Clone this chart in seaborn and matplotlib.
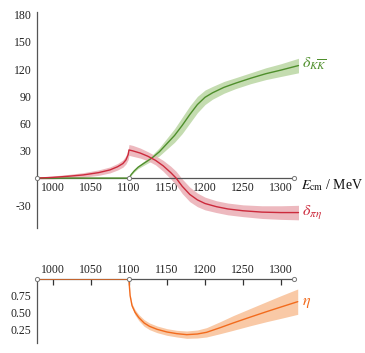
import numpy as np
import pandas as pd
import matplotlib
matplotlib.use("Agg")
import matplotlib.pyplot as plt
import seaborn as sns

sns.set_style("white")
plt.rcParams["font.family"] = ["Liberation Serif", "DejaVu Serif"]
plt.rcParams["mathtext.fontset"] = "stix"
plt.rcParams["axes.unicode_minus"] = False

# ---- data ----
pieta_E = [979, 1000, 1020, 1040, 1060, 1075, 1085, 1092, 1096, 1099, 1100, 1105, 1115, 1125,
           1135, 1145, 1155, 1162, 1170, 1180, 1190, 1200, 1215, 1230, 1250, 1275, 1300, 1323]
pieta_delta = [0, 0.8, 2, 3.5, 6, 9, 12.5, 16, 20, 26, 31, 30, 27.5, 24,
               19.5, 13.5, 6, 0, -9, -18, -24, -28, -31.5, -34, -36, -37.5, -38, -38]
pieta_err = [0.8, 1.5, 2, 2.5, 3, 3.3, 3.6, 4, 4.5, 5.5, 6, 6, 5.5, 5,
             5, 6, 7, 7.5, 8, 8, 7.5, 7, 6.5, 6.5, 6.5, 7, 7.5, 8]

kk_E = [979, 1100, 1103, 1107, 1112, 1120, 1130, 1140, 1150, 1160, 1170, 1180, 1190, 1200,
        1210, 1225, 1240, 1260, 1280, 1300, 1323]
kk_delta = [0, 0, 4, 8, 12, 16.5, 22, 29, 38, 47, 58, 70, 81, 89,
            94, 100, 104.5, 110, 115, 119, 124]
kk_err = [0, 0, 0.8, 1.2, 1.6, 2.2, 3, 4.5, 6, 7.5, 9, 9.5, 9, 8,
          7, 6.5, 6, 6, 6.5, 7, 8]

eta_E = [979, 1100, 1100.5, 1101.5, 1104, 1108, 1113, 1120, 1127, 1137, 1150, 1163, 1176,
         1190, 1202, 1220, 1237, 1260, 1281, 1300, 1322]
eta_val = [1, 1, 0.9, 0.75, 0.6, 0.5, 0.42, 0.34, 0.29, 0.245, 0.205, 0.18, 0.165,
           0.175, 0.2, 0.27, 0.34, 0.43, 0.51, 0.58, 0.66]
eta_err = [0, 0, 0.01, 0.02, 0.03, 0.04, 0.045, 0.05, 0.05, 0.05, 0.05, 0.05, 0.055,
           0.06, 0.07, 0.09, 0.11, 0.13, 0.15, 0.17, 0.19]

x_ticks = [1000, 1050, 1100, 1150, 1200, 1250, 1300]
y_ticks_top = [-30, 30, 60, 90, 120, 150, 180]
y_ticks_bot = [0.25, 0.50, 0.75]

green, green_band = "#4f8f2c", "#c4dcb0"
red, red_band = "#cc2a3c", "#ebb2b8"
orange, orange_band = "#f26b1d", "#f9c9a6"
axcol = "#555555"

W, H = 365, 353
fig = plt.figure(figsize=(W / 100, H / 100), dpi=100)
xlim = (979, 1325)
x_end = 1317

def frac(l, t, r, b):
    return [l / W, 1 - b / H, (r - l) / W, (b - t) / H]

ax1 = fig.add_axes(frac(37, 12, 300, 228))
ax2 = fig.add_axes(frac(37, 279, 300, 343))

df_p = pd.DataFrame({"E": pieta_E, "d": pieta_delta, "e": pieta_err})
df_k = pd.DataFrame({"E": kk_E, "d": kk_delta, "e": kk_err})
df_h = pd.DataFrame({"E": eta_E, "d": eta_val, "e": eta_err})

# top panel
ax1.fill_between(df_k.E, df_k.d - df_k.e, df_k.d + df_k.e, color=green_band, lw=0, zorder=1)
ax1.fill_between(df_p.E, df_p.d - df_p.e, df_p.d + df_p.e, color=red_band, lw=0, zorder=1, alpha=0.9)
sns.lineplot(data=df_k, x="E", y="d", ax=ax1, color=green, lw=1.0, estimator=None, sort=False, zorder=3)
sns.lineplot(data=df_p, x="E", y="d", ax=ax1, color=red, lw=1.0, estimator=None, sort=False, zorder=3)
ax1.set_xlim(*xlim)
ax1.set_ylim(-55, 183)
for s in ["top", "right"]:
    ax1.spines[s].set_visible(False)
ax1.spines["bottom"].set_position(("data", 0))
ax1.spines["bottom"].set_bounds(979, x_end)
for s in ["bottom", "left"]:
    ax1.spines[s].set_color(axcol)
    ax1.spines[s].set_linewidth(0.9)
ax1.set_xticks(x_ticks)
ax1.set_yticks(y_ticks_top)
ax1.tick_params(direction="in", length=4.5, width=0.9, colors="#333333", labelsize=8.5, labelcolor="#222222")
ax1.tick_params(axis="x", pad=3)
ax1.tick_params(axis="y", pad=4)
ax1.set_xlabel("")
ax1.set_ylabel("")
ax1.plot([979, 1100, x_end], [0, 0, 0], ls="none", marker="o", ms=3, mfc="white",
         mec="#777777", mew=0.7, clip_on=False, zorder=5)
ax1.text(1328, 126, r"$\delta_{K\overline{K}}$", color=green, fontsize=11.5, va="center", ha="left")
ax1.text(1328, -39, r"$\delta_{\pi\eta}$", color=red, fontsize=11.5, va="center", ha="left")
ax1.text(1326, -8, r"$E_{\mathrm{cm}}$ / MeV", color="#111111", fontsize=10, va="center", ha="left")

# bottom panel
ax2.fill_between(df_h.E, df_h.d - df_h.e, df_h.d + df_h.e, color=orange_band, lw=0, zorder=1)
sns.lineplot(data=df_h, x="E", y="d", ax=ax2, color=orange, lw=1.0, estimator=None, sort=False, zorder=3)
ax2.set_xlim(*xlim)
ax2.set_ylim(0.04, 1.0)
for s in ["bottom", "right"]:
    ax2.spines[s].set_visible(False)
ax2.spines["top"].set_bounds(979, x_end)
for s in ["top", "left"]:
    ax2.spines[s].set_color(axcol)
    ax2.spines[s].set_linewidth(0.9)
ax2.xaxis.tick_top()
ax2.set_xticks(x_ticks)
ax2.set_yticks(y_ticks_bot)
ax2.set_yticklabels(["0.25", "0.50", "0.75"])
ax2.tick_params(direction="in", length=4.5, width=0.9, colors="#333333", labelsize=8.5, labelcolor="#222222")
ax2.tick_params(axis="x", pad=2)
ax2.tick_params(axis="y", pad=4)
ax2.set_xlabel("")
ax2.set_ylabel("")
ax2.plot([979, 1100, x_end], [1, 1, 1], ls="none", marker="o", ms=3, mfc="white",
         mec="#777777", mew=0.7, clip_on=False, zorder=5)
ax2.text(1328, 0.66, r"$\eta$", color=orange, fontsize=11.5, va="center", ha="left")

fig.savefig("out.png", dpi=100)
